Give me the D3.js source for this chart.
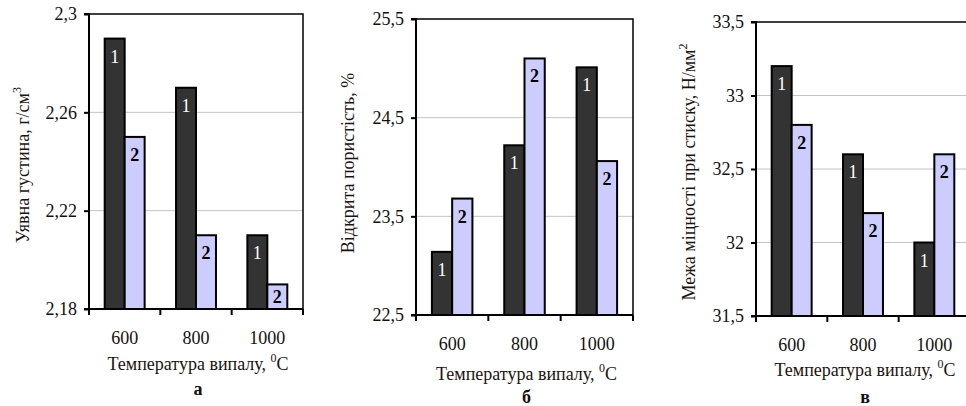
<!DOCTYPE html>
<html>
<head>
<meta charset="utf-8">
<script src="https://cdn.jsdelivr.net/npm/d3@7"></script>
<style>
  body { margin: 0; background: #fff; }
  svg text { font-family: "Liberation Serif", "Times New Roman", "DejaVu Serif", serif !important; }
</style>
</head>
<body>
<svg id="chart" width="966" height="406"></svg>
<script>
// data
const categories = ["600", "800", "1000"];

const densitySeries1 = [2.29, 2.27, 2.21];
const densitySeries2 = [2.25, 2.21, 2.19];
const densityTicks = [2.18, 2.22, 2.26, 2.3];

const porositySeries1 = [23.14, 24.22, 25.01];
const porositySeries2 = [23.68, 25.10, 24.06];
const porosityTicks = [22.5, 23.5, 24.5, 25.5];

const strengthSeries1 = [33.2, 32.6, 32.0];
const strengthSeries2 = [32.8, 32.2, 32.6];
const strengthTicks = [31.5, 32, 32.5, 33, 33.5];

const seriesNames = ["1", "2"];
const xTitle = "Температура випалу, ";

const svg = d3.select("#chart");
const barColors = ["#333333", "#ccccff"];
const labelColors = ["#ffffff", "#000000"];

function commaFormat(v) {
    return String(v).replace(".", ",");
}

function drawPanel(cfg) {
    let g = svg.append("g");

    let x0 = d3.scaleBand()
        .domain(categories)
        .range([cfg.left, cfg.right])
        .paddingInner(0.44)
        .paddingOuter(0.22);

    let x1 = d3.scaleBand()
        .domain(seriesNames)
        .range([0, x0.bandwidth()]);

    let y = d3.scaleLinear()
        .domain(d3.extent(cfg.ticks))
        .range([cfg.bottom, cfg.top]);

    // gridlines
    g.selectAll(".grid")
        .data(cfg.ticks.slice(1, -1))
        .enter()
        .append("line")
        .attr("x1", cfg.left)
        .attr("x2", cfg.right)
        .attr("y1", d => y(d))
        .attr("y2", d => y(d))
        .attr("stroke", "#c4c4c4")
        .attr("stroke-width", 1);

    // plot border (top + right)
    g.append("path")
        .attr("d", `M${cfg.left},${cfg.top}H${cfg.right}V${cfg.bottom}`)
        .attr("fill", "none")
        .attr("stroke", "#000")
        .attr("stroke-width", 1.5);

    let rows = categories.map((c, i) => ({
        cat: c,
        values: [cfg.s1[i], cfg.s2[i]]
    }));

    let groups = g.selectAll(".grp")
        .data(rows)
        .enter()
        .append("g")
        .attr("transform", d => `translate(${x0(d.cat)},0)`);

    let bars = groups.selectAll(".bar")
        .data(d => d.values.map((v, i) => ({ s: seriesNames[i], v: v, i: i })))
        .enter();

    bars.append("rect")
        .attr("x", d => x1(d.s))
        .attr("y", d => y(d.v))
        .attr("width", x1.bandwidth())
        .attr("height", d => cfg.bottom - y(d.v))
        .attr("fill", d => barColors[d.i])
        .attr("stroke", "#000")
        .attr("stroke-width", 2);

    // label near the bar end, centred in the bar when it is short
    bars.append("text")
        .attr("x", d => x1(d.s) + x1.bandwidth() / 2)
        .attr("y", d => Math.min(y(d.v) + 18, (y(d.v) + cfg.bottom) / 2) + 6)
        .attr("text-anchor", "middle")
        .attr("font-size", 18)
        .attr("font-weight", d => d.i === 1 ? "bold" : "normal")
        .attr("fill", d => labelColors[d.i])
        .text(d => d.s);

    // y axis
    let yAxis = d3.axisLeft(y)
        .tickValues(cfg.ticks)
        .tickSize(5)
        .tickPadding(7)
        .tickFormat(commaFormat);

    let ya = g.append("g")
        .attr("transform", `translate(${cfg.left},0)`)
        .call(yAxis);
    ya.select(".domain").attr("stroke-width", 2).attr("d", `M-5,${cfg.bottom}H0V${cfg.top}H-5`);
    ya.selectAll(".tick line").attr("stroke-width", 2);
    ya.selectAll(".tick text")
        .attr("font-size", 18)
        .attr("fill", "#111");

    // x axis: ticks at category boundaries
    let boundaries = d3.range(categories.length + 1)
        .map(i => cfg.left + i * x0.step());

    g.append("line")
        .attr("x1", cfg.left)
        .attr("x2", cfg.right)
        .attr("y1", cfg.bottom)
        .attr("y2", cfg.bottom)
        .attr("stroke", "#000")
        .attr("stroke-width", 2);

    g.selectAll(".xtick")
        .data(boundaries)
        .enter()
        .append("line")
        .attr("x1", d => d)
        .attr("x2", d => d)
        .attr("y1", cfg.bottom)
        .attr("y2", cfg.bottom + 6)
        .attr("stroke", "#000")
        .attr("stroke-width", 2);

    g.selectAll(".xlabel")
        .data(categories)
        .enter()
        .append("text")
        .attr("x", d => x0(d) + x0.bandwidth() / 2)
        .attr("y", cfg.bottom + 35)
        .attr("text-anchor", "middle")
        .attr("font-size", 18)
        .attr("fill", "#111")
        .text(d => d);

    let mid = cfg.left + 1.5 * x0.step() + 2;

    // x title with superscript 0
    let xt = g.append("text")
        .attr("x", mid)
        .attr("y", cfg.xTitleY)
        .attr("text-anchor", "middle")
        .attr("font-size", 18)
        .attr("fill", "#1a1410");
    xt.append("tspan").text(xTitle);
    xt.append("tspan").attr("font-size", 12).attr("dy", -8).text("0");
    xt.append("tspan").attr("dy", 8).text("C");

    // panel letter
    g.append("text")
        .attr("x", mid)
        .attr("y", cfg.letterY)
        .attr("text-anchor", "middle")
        .attr("font-size", 18)
        .attr("font-weight", "bold")
        .attr("fill", "#111")
        .text(cfg.letter);

    // y title (rotated) with optional superscript
    let yt = g.append("text")
        .attr("transform", `translate(${cfg.yTitleX},${cfg.yTitleY}) rotate(-90)`)
        .attr("text-anchor", "middle")
        .attr("font-size", 18)
        .attr("fill", "#1a1410");
    yt.append("tspan").text(cfg.yTitle);
    if (cfg.yTitleSup) {
        yt.append("tspan").attr("font-size", 12).attr("dy", -8).text(cfg.yTitleSup);
    }
}

drawPanel({
    left: 89, right: 303, top: 14, bottom: 309,
    s1: densitySeries1, s2: densitySeries2, ticks: densityTicks,
    yTitle: "Уявна густина, г/см", yTitleSup: "3",
    yTitleX: 29, yTitleY: 165,
    xTitleY: 370, letterY: 395, letter: "а"
});

drawPanel({
    left: 416, right: 633, top: 19, bottom: 315,
    s1: porositySeries1, s2: porositySeries2, ticks: porosityTicks,
    yTitle: "Відкрита пористість, %", yTitleSup: null,
    yTitleX: 354, yTitleY: 163,
    xTitleY: 380, letterY: 403, letter: "б"
});

drawPanel({
    left: 756, right: 970, top: 22, bottom: 316,
    s1: strengthSeries1, s2: strengthSeries2, ticks: strengthTicks,
    yTitle: "Межа міцності при стиску, Н/мм", yTitleSup: "2",
    yTitleX: 695, yTitleY: 172,
    xTitleY: 376, letterY: 403, letter: "в"
});
</script>
</body>
</html>
